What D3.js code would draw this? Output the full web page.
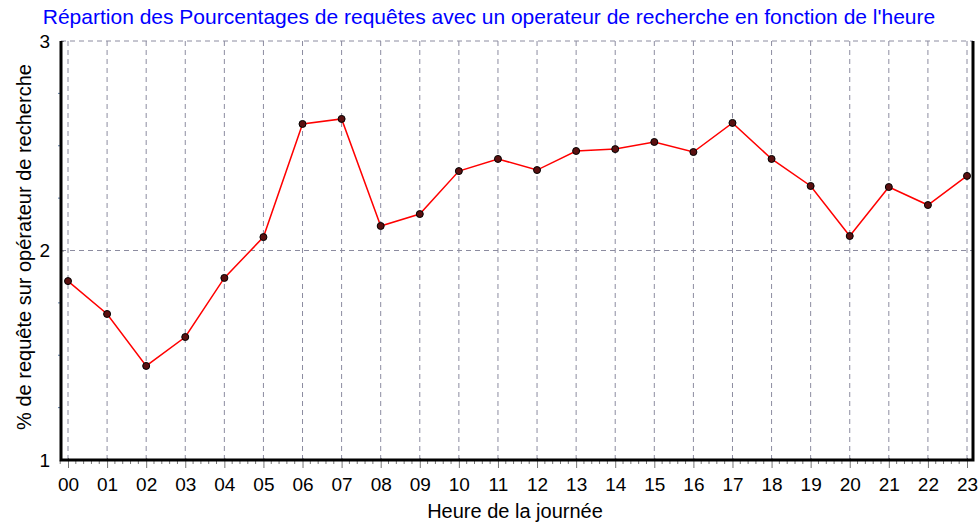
<!DOCTYPE html>
<html>
<head>
<meta charset="utf-8">
<script src="https://cdn.jsdelivr.net/npm/d3@7"></script>
<style>
  body { margin: 0; background: #fff; }
  svg { display: block; font-family: "Liberation Sans", Arial, sans-serif; }
  .grid line { stroke: #8c8ca0; stroke-width: 1; stroke-dasharray: 5,4; }
</style>
</head>
<body>
<div id="chart"></div>
<script>
var hours = ["00","01","02","03","04","05","06","07","08","09","10","11",
             "12","13","14","15","16","17","18","19","20","21","22","23"];
var pct = [1.854, 1.697, 1.449, 1.587, 1.869, 2.064, 2.604, 2.628, 2.117, 2.174, 2.379, 2.437,
           2.384, 2.475, 2.484, 2.518, 2.470, 2.609, 2.437, 2.308, 2.069, 2.303, 2.217, 2.356];
var yTicks = [1, 2, 3];
var yMinor = [1.25, 1.5, 1.75, 2.25, 2.5, 2.75];

var w = 980, h = 523,
    m = {t:41, r:7, b:63, l:61};

var svg = d3.select("#chart").append("svg")
    .attr("width", w)
    .attr("height", h);

var x = d3.scalePoint().domain(hours).range([68, 967]);
var y = d3.scaleLinear().domain([1, 3]).range([h - m.b, m.t]);

var step = x.step();

// grid
var grid = svg.append("g").attr("class", "grid");
grid.selectAll(".vg").data(hours).enter().append("line")
    .attr("x1", function(d){ return x(d); })
    .attr("x2", function(d){ return x(d); })
    .attr("y1", y(3))
    .attr("y2", y(1));
grid.selectAll(".hg").data(yTicks.slice(1)).enter().append("line")
    .attr("x1", m.l)
    .attr("x2", w - m.r)
    .attr("y1", function(d){ return y(d); })
    .attr("y2", function(d){ return y(d); });

// minor ticks on x
var minor = [];
hours.forEach(function(hh, i){
    for (var k = 1; k < 5; k++) {
        if (i < hours.length - 1) minor.push(x(hh) + step * k / 5);
    }
});
minor.push(x(hours[0]) - step / 5);
svg.append("g").selectAll("line").data(minor).enter().append("line")
    .attr("x1", function(d){ return d; })
    .attr("x2", function(d){ return d; })
    .attr("y1", y(1))
    .attr("y2", y(1) + 4)
    .style("stroke", "#777")
    .style("stroke-width", 1);

// x axis
var xAxis = svg.append("g")
    .attr("transform", "translate(0," + y(1) + ")")
    .call(d3.axisBottom(x).tickSize(8).tickPadding(10).tickSizeOuter(0));
xAxis.select(".domain").remove();
xAxis.selectAll(".tick line").attr("y1", -2).style("stroke", "#777");
xAxis.selectAll("text").style("font-size", "19px").style("fill", "#000");

// y axis
var yAxis = svg.append("g")
    .attr("transform", "translate(" + m.l + ",0)")
    .call(d3.axisLeft(y).tickValues(yTicks).tickFormat(d3.format("d")).tickSize(6).tickPadding(5));
yAxis.select(".domain").remove();
yAxis.selectAll(".tick line").attr("x2", 3).style("stroke", "#777");
yAxis.selectAll("text").style("font-size", "19px").style("fill", "#000");

svg.append("g").selectAll("line").data(yMinor).enter().append("line")
    .attr("x1", m.l - 3)
    .attr("x2", m.l)
    .attr("y1", function(d){ return y(d); })
    .attr("y2", function(d){ return y(d); })
    .style("stroke", "#5a7aa0");

// frame: left, bottom, right solid
svg.append("path")
    .attr("d", "M" + m.l + "," + y(3) + "V" + y(1) + "H" + (w - m.r) + "V" + y(3))
    .style("fill", "none")
    .style("stroke", "#000")
    .style("stroke-width", 3);

// series
var line = d3.line()
    .x(function(d, i){ return x(hours[i]); })
    .y(function(d){ return y(d); });

svg.append("path")
    .datum(pct)
    .attr("d", line)
    .style("fill", "none")
    .style("stroke", "#ff0000")
    .style("stroke-width", 1.5);

svg.append("g").selectAll("circle").data(pct).enter().append("circle")
    .attr("cx", function(d, i){ return x(hours[i]); })
    .attr("cy", function(d){ return y(d); })
    .attr("r", 3.5)
    .style("fill", "#5a1010")
    .style("stroke", "#000")
    .style("stroke-width", 1);

// titles
svg.append("text")
    .text("Répartion des Pourcentages de requêtes avec un operateur de recherche en fonction de l'heure")
    .attr("x", 489)
    .attr("y", 24)
    .style("text-anchor", "middle")
    .style("font-size", "21px")
    .style("fill", "#0000ff");

svg.append("text")
    .text("Heure de la journée")
    .attr("x", 515)
    .attr("y", 518)
    .style("text-anchor", "middle")
    .style("font-size", "20px")
    .style("fill", "#000");

svg.append("text")
    .text("% de requête sur opérateur de recherche")
    .attr("transform", "translate(31,247) rotate(-90)")
    .style("text-anchor", "middle")
    .style("font-size", "20px")
    .style("fill", "#000");
</script>
</body>
</html>
